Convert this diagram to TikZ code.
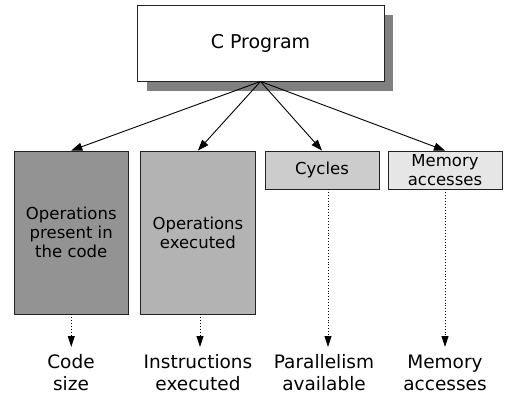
\documentclass[tikz,border=0pt]{standalone}
\usepackage{fontspec}
\setmainfont{DejaVu Sans}
\usetikzlibrary{arrows.meta}
\definecolor{c1}{HTML}{939393}
\definecolor{c2}{HTML}{B3B3B3}
\definecolor{c3}{HTML}{CCCCCC}
\definecolor{c4}{HTML}{E6E6E6}
\definecolor{shad}{HTML}{808080}
\definecolor{edge}{HTML}{222222}
\begin{document}
\begin{tikzpicture}[x=1pt,y=-1pt,
  box/.style={draw=edge, line width=0.9pt, inner sep=0pt, align=center,
    font=\fontsize{16.5}{19}\selectfont},
  conn/.style={line width=0.9pt, -{Triangle[length=11pt,width=8pt]}},
  dconn/.style={line width=0.9pt, dotted, -{Triangle[length=11pt,width=7pt]}},
  lab/.style={inner sep=0pt, align=center, anchor=base,
    font=\fontsize{18.5}{21.7}\selectfont}]
\useasboundingbox (0,0) rectangle (506,397);
\fill[shad] (146.5,14.5) rectangle (393,91);
\node[box, fill=white, minimum width=247pt, minimum height=76pt,
  font=\fontsize{19}{22}\selectfont] (prog) at (260.5,43) {C Program};
\node[box, fill=c1, minimum width=114.5pt, minimum height=163pt] (b1) at (71.25,232.5) {Operations\\present in\\the code};
\node[box, fill=c2, minimum width=114.3pt, minimum height=163pt] (b2) at (197.9,232.5) {Operations\\executed};
\node[box, fill=c3, minimum width=114pt, minimum height=38pt] (b3) at (322,170) {Cycles};
\node[box, fill=c4, minimum width=114pt, minimum height=38pt] (b4) at (445,170) {Memory\\accesses};
\draw[conn] (prog.south) -- (b1.north);
\draw[conn] (prog.south) -- (b2.north);
\draw[conn] (prog.south) -- (b3.north);
\draw[conn] (prog.south) -- (b4.north);
\coordinate (s3) at (328,189);
\coordinate (e1) at (71.25,347);
\coordinate (e2) at (200,347);
\coordinate (e3) at (328,347);
\coordinate (e4) at (445,347);
\draw[dconn] (b1.south) -- (e1);
\draw[dconn] (b2.south -| e2) -- (e2);
\draw[dconn] (s3) -- (e3);
\draw[dconn] (b4.south) -- (e4);
\node[lab] (l1) at (71,390) {Code\\size};
\node[lab] (l2) at (198,390) {Instructions\\executed};
\node[lab] (l3) at (324,390) {Parallelism\\available};
\node[lab] (l4) at (445,390) {Memory\\accesses};
\end{tikzpicture}
\end{document}
